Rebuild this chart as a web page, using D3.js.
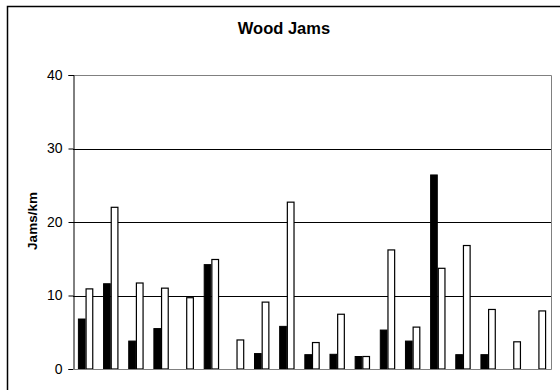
<!DOCTYPE html>
<html>
<head>
<meta charset="utf-8">
<script src="https://cdn.jsdelivr.net/npm/d3@7"></script>
<style>
  body { margin: 0; background: #fff; }
  svg { display: block; font-family: "Liberation Sans", Arial, sans-serif; }
</style>
</head>
<body>
<svg id="chart" width="560" height="390"></svg>
<script>
const sites = d3.range(1, 20).map(String);
const seriesA = [6.8, 11.6, 3.8, 5.5, 0, 14.2, 0, 2.1, 5.8, 1.95, 2.0, 1.7, 5.3, 3.8, 26.4, 1.95, 1.95, 0, 0];
const seriesB = [10.9, 22.0, 11.7, 11.0, 9.7, 14.9, 3.95, 9.1, 22.7, 3.6, 7.45, 1.7, 16.2, 5.7, 13.7, 16.8, 8.1, 3.7, 7.9];
const yTicks = [0, 10, 20, 30, 40];

const svg = d3.select("#chart");
const m = { left: 73, right: 551, top: 75, bottom: 369 };

// outer chart frame (runs off the bottom/right of the window)
svg.append("rect")
  .attr("x", 7.5).attr("y", 6.5)
  .attr("width", 600).attr("height", 500)
  .attr("fill", "#fff").attr("stroke", "#000").attr("stroke-width", 1.5);

svg.append("text")
  .attr("x", 284).attr("y", 34)
  .attr("text-anchor", "middle")
  .attr("font-size", 16.5).attr("font-weight", "bold")
  .text("Wood Jams");

const y = d3.scaleLinear().domain([0, 40]).range([m.bottom, m.top]);
const x0 = d3.scaleBand().domain(sites).range([m.left, m.right])
  .paddingInner(0.39).paddingOuter(0.195);
const x1 = d3.scaleBand().domain(["a", "b"]).range([0, x0.bandwidth()]);

// gridlines
svg.append("g")
  .selectAll("line")
  .data(yTicks.filter(t => t > 0 && t < 40))
  .join("line")
  .attr("x1", m.left).attr("x2", m.right)
  .attr("y1", d => Math.round(y(d)) + 0.5).attr("y2", d => Math.round(y(d)) + 0.5)
  .attr("stroke", "#000");

// plot frame
svg.append("path")
  .attr("d", `M${m.left},${m.top + 0.5}H${m.right + 0.5}V${m.bottom + 0.5}H${m.left}`)
  .attr("fill", "none").attr("stroke", "#808080");

const groups = svg.append("g")
  .selectAll("g")
  .data(sites.map((s, i) => ({ s, a: seriesA[i], b: seriesB[i] })))
  .join("g")
  .attr("transform", d => `translate(${x0(d.s)},0)`);

groups.append("rect")
  .attr("x", x1("a") + 0.5).attr("width", x1.bandwidth() - 1)
  .attr("y", d => y(d.a)).attr("height", d => y(0) - y(d.a))
  .attr("fill", "#000").attr("stroke", "#000")
  .attr("display", d => d.a > 0 ? null : "none");

groups.append("rect")
  .attr("x", x1("b") + 0.5).attr("width", x1.bandwidth() - 1)
  .attr("y", d => y(d.b)).attr("height", d => y(0) - y(d.b))
  .attr("fill", "#fff").attr("stroke", "#000").attr("stroke-width", 1.2);

// y axis
const yAxis = svg.append("g")
  .attr("transform", `translate(${m.left + 0.5},0)`)
  .call(d3.axisLeft(y).tickValues(yTicks).tickSize(5).tickPadding(6));
yAxis.select(".domain").attr("stroke", "#000");
yAxis.selectAll("text").attr("font-size", 14).attr("fill", "#000")
  .attr("font-family", "Liberation Sans, Arial, sans-serif");

// baseline
svg.append("line")
  .attr("x1", m.left).attr("x2", m.right)
  .attr("y1", m.bottom + 0.5).attr("y2", m.bottom + 0.5)
  .attr("stroke", "#808080");

svg.append("text")
  .attr("transform", "translate(37,221) rotate(-90)")
  .attr("text-anchor", "middle")
  .attr("font-size", 13.5).attr("font-weight", "bold")
  .text("Jams/km");
</script>
</body>
</html>
